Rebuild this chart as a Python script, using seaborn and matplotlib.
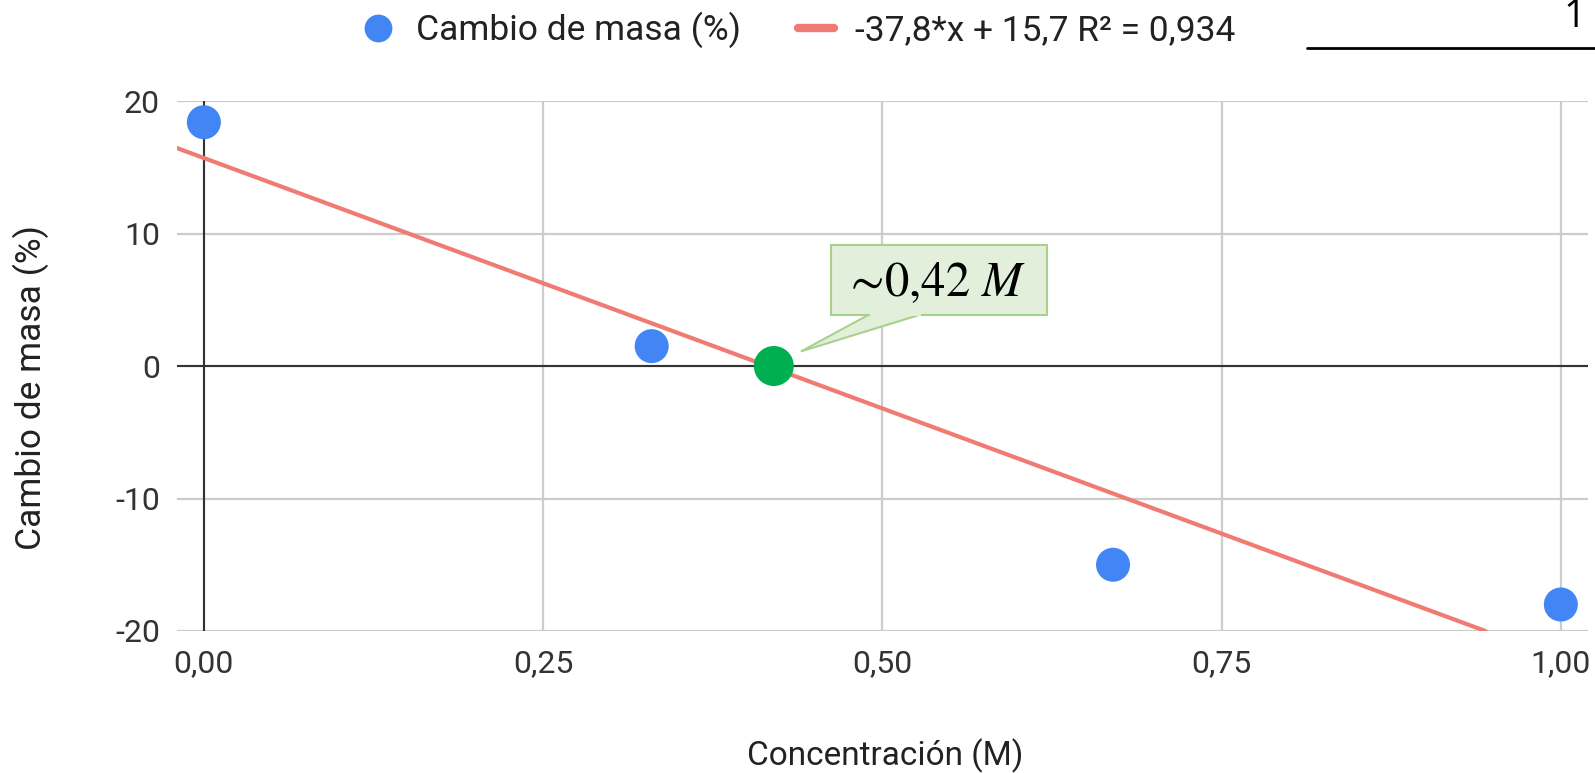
"""Cambio de masa frente a concentración, con recta de ajuste y punto de corte."""

import matplotlib
import matplotlib.pyplot as plt
import numpy as np
import pandas as pd
import seaborn as sns
from matplotlib.lines import Line2D
from matplotlib.patches import Polygon, Rectangle

matplotlib.use("Agg")

# datos
CONCENTRACION = [0.0, 0.33, 0.67, 1.0]
CAMBIO_MASA = [18.4, 1.5, -15.0, -18.0]
PENDIENTE = -37.8
INTERCEPTO = 15.7
R2_TEXTO = "0,934"
PUNTO_CORTE = 0.42

X_TICKS = [0.0, 0.25, 0.5, 0.75, 1.0]
X_TICK_LABELS = ["0,00", "0,25", "0,50", "0,75", "1,00"]
Y_TICKS = [-20, -10, 0, 10, 20]
Y_TICK_LABELS = ["-20", "-10", "0", "10", "20"]

AZUL = "#4285F4"
ROJO = "#EF7B73"
VERDE = "#00B050"
GRIS = "#CCCCCC"
TEXTO = "#222222"

sns.set_theme(style="white")
plt.rcParams["font.family"] = ["Roboto", "DejaVu Sans"]
plt.rcParams["mathtext.fontset"] = "stix"

fig = plt.figure(figsize=(15.95, 7.73), dpi=100)
ax = fig.add_axes([0.1108, 0.1837, 0.8848, 0.6856])

xlim = (-0.02, 1.02)
ylim = (-20, 20)
ax.set_xlim(*xlim)
ax.set_ylim(*ylim)

for s in ax.spines.values():
    s.set_visible(False)

ax.set_xticks(X_TICKS)
ax.set_xticklabels(X_TICK_LABELS)
ax.set_yticks(Y_TICKS)
ax.set_yticklabels(Y_TICK_LABELS)
ax.tick_params(axis="both", length=0, labelsize=23, colors="#333333")
ax.tick_params(axis="x", pad=13)
ax.tick_params(axis="y", pad=12)
ax.grid(True, color=GRIS, linewidth=1.6, zorder=0)
ax.set_axisbelow(True)

ax.axhline(0, color="#333333", linewidth=1.5, zorder=1)
ax.axvline(0, color="#333333", linewidth=1.5, zorder=1)

# recta de ajuste, cortada donde sale por abajo
x_fin = (ylim[0] - INTERCEPTO) / PENDIENTE
x_linea = np.array([xlim[0], x_fin])
df_linea = pd.DataFrame({"x": x_linea, "y": PENDIENTE * x_linea + INTERCEPTO})
sns.lineplot(data=df_linea, x="x", y="y", color=ROJO, linewidth=3.0, ax=ax,
             zorder=2, legend=False)

df = pd.DataFrame({"x": CONCENTRACION, "y": CAMBIO_MASA})
sns.scatterplot(data=df, x="x", y="y", color=AZUL, s=600, edgecolor="none",
                ax=ax, zorder=3, clip_on=False, legend=False)

# punto de corte con el eje x
ax.scatter([PUNTO_CORTE], [0], s=830, color=VERDE, edgecolor="none", zorder=4)

# globo de la anotación
caja_x0, caja_x1 = 0.4625, 0.6216
caja_y0, caja_y1 = 3.85, 9.13
borde = "#A9D18E"
relleno = "#E2EFDA"
ax.add_patch(Polygon([[0.4905, caja_y0 + 0.05], [0.5286, caja_y0 + 0.05], [0.440, 1.1]],
                     closed=True, facecolor=relleno, edgecolor=borde, linewidth=1.5,
                     zorder=5))
ax.add_patch(Rectangle((caja_x0, caja_y0), caja_x1 - caja_x0, caja_y1 - caja_y0,
                       facecolor=relleno, edgecolor=borde, linewidth=1.5, zorder=5))
ax.add_patch(Rectangle((0.4908, caja_y0 - 0.05), 0.0375, 0.25,
                       facecolor=relleno, edgecolor="none", zorder=6))
ax.text((caja_x0 + caja_x1) / 2 - 0.004, (caja_y0 + caja_y1) / 2 - 0.2,
        r"$\sim\!0{,}42\ M$", ha="center", va="center", fontsize=35,
        color="black", zorder=7)

ax.set_xlabel("Concentración (M)", fontsize=24, color=TEXTO)
ax.xaxis.set_label_coords(0.502, -0.236)
ax.xaxis.label.set_va("center")
ax.set_ylabel("Cambio de masa (%)", fontsize=25.5, color=TEXTO)
ax.yaxis.set_label_coords(-0.1036, 0.46)
ax.yaxis.label.set_va("center")

handles = [
    Line2D([], [], marker="o", linestyle="none", markersize=20,
           markerfacecolor=AZUL, markeredgecolor="none"),
    Line2D([], [], color=ROJO, linewidth=6),
]
etiquetas = [
    "Cambio de masa (%)",
    f"{PENDIENTE:.1f}*x + {INTERCEPTO:.1f} R² = {R2_TEXTO}".replace(".", ","),
]
fig.legend(handles, etiquetas, loc="center", bbox_to_anchor=(0.5, 1 - 30 / 773),
           ncol=2, frameon=False, fontsize=25.5, handlelength=1.0, handletextpad=0.6,
           columnspacing=1.6, labelcolor=TEXTO)

# resto del documento recortado arriba a la derecha
fig.text(1575 / 1595, 1 - 27 / 773, "1", ha="center", va="baseline",
         fontsize=28, color="black", family=["Open Sans", "DejaVu Sans"])
fig.add_artist(Line2D([1307 / 1595, 1.0], [1 - 47.5 / 773] * 2, color="black",
                      linewidth=2.0, transform=fig.transFigure))

fig.savefig("out.png", dpi=100)
